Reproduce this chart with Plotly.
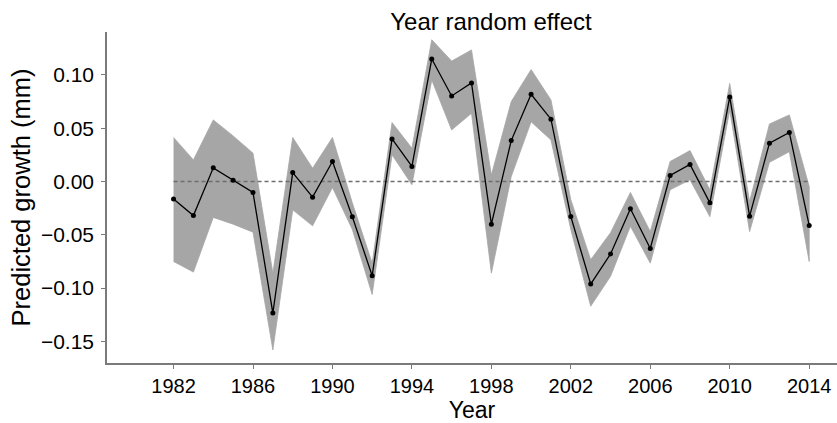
import plotly.graph_objects as go

years = list(range(1982, 2015))
effect = [
    -0.0165, -0.032, 0.0128, 0.0013, -0.0103, -0.1234, 0.0084, -0.0147, 0.0188,
    -0.0331, -0.0884, 0.040, 0.0141, 0.115, 0.0803, 0.0925, -0.040, 0.0384,
    0.0819, 0.0585, -0.0328, -0.0962, -0.068, -0.0256, -0.0628, 0.0056, 0.016,
    -0.020, 0.0794, -0.0325, 0.036, 0.046, -0.0412,
]
upper = [
    0.0413, 0.0203, 0.0578, 0.0428, 0.0266, -0.086, 0.0413, 0.0125, 0.0413,
    -0.020, -0.0766, 0.0553, 0.0313, 0.133, 0.113, 0.1235, 0.006, 0.075,
    0.105, 0.0766, -0.017, -0.0734, -0.048, -0.0103, -0.047, 0.0188, 0.029,
    -0.0078, 0.092, -0.0188, 0.054, 0.0625, -0.0047,
]
lower = [
    -0.075, -0.085, -0.0337, -0.040, -0.0475, -0.158, -0.0266, -0.0416, -0.0056,
    -0.045, -0.106, 0.025, -0.003, 0.0953, 0.0484, 0.064, -0.086, 0.0047,
    0.056, 0.039, -0.045, -0.117, -0.089, -0.042, -0.0766, -0.0078, 0.0016,
    -0.033, 0.067, -0.047, 0.018, 0.028, -0.075,
]
x_ticks = [1982, 1986, 1990, 1994, 1998, 2002, 2006, 2010, 2014]
y_ticks = [-0.15, -0.10, -0.05, 0.00, 0.05, 0.10]

AXIS = "#7a7a7a"
BAND = "#a6a6a6"
FONT = "Liberation Sans, Arial, Helvetica, sans-serif"

fig = go.Figure()
fig.add_trace(go.Scatter(
    x=years + years[::-1],
    y=upper + lower[::-1],
    fill="toself",
    fillcolor=BAND,
    line=dict(color=BAND, width=0.8),
    mode="lines",
    hoverinfo="skip",
))
fig.add_trace(go.Scatter(
    x=[years[0], years[-1]],
    y=[0, 0],
    mode="lines",
    line=dict(color="#6e6e6e", width=1.5, dash="4px,3px"),
    hoverinfo="skip",
))
fig.add_trace(go.Scatter(
    x=years,
    y=effect,
    mode="lines+markers",
    line=dict(color="black", width=1.3),
    marker=dict(color="black", size=5),
))

fig.update_layout(
    width=837,
    height=423,
    margin=dict(l=107, r=0, t=32, b=60),
    paper_bgcolor="white",
    plot_bgcolor="white",
    showlegend=False,
    font=dict(family=FONT, color="black", size=21),
    title=dict(
        text="Year random effect",
        x=491 / 837,
        xanchor="center",
        y=0.95,
        yanchor="middle",
        font=dict(size=24),
    ),
)
fig.update_xaxes(
    range=[1978.65, 2015.4],
    tickvals=x_ticks,
    ticks="outside",
    ticklen=4,
    tickcolor=AXIS,
    tickfont=dict(size=20),
    showline=True,
    linecolor=AXIS,
    linewidth=1.5,
    showgrid=False,
    zeroline=False,
    title=dict(text="Year", font=dict(size=23), standoff=0),
)
fig.update_yaxes(
    range=[-0.1703, 0.1403],
    tickvals=y_ticks,
    tickformat=".2f",
    ticks="outside",
    ticklen=4,
    tickcolor=AXIS,
    ticklabelstandoff=3,
    showline=True,
    linecolor=AXIS,
    linewidth=1.5,
    showgrid=False,
    zeroline=False,
    title=dict(text="Predicted growth (mm)", font=dict(size=25.5), standoff=3),
)

fig.write_html(
    "out.html",
    config={"displayModeBar": False},
    post_script="document.body.style.margin='0';",
)
